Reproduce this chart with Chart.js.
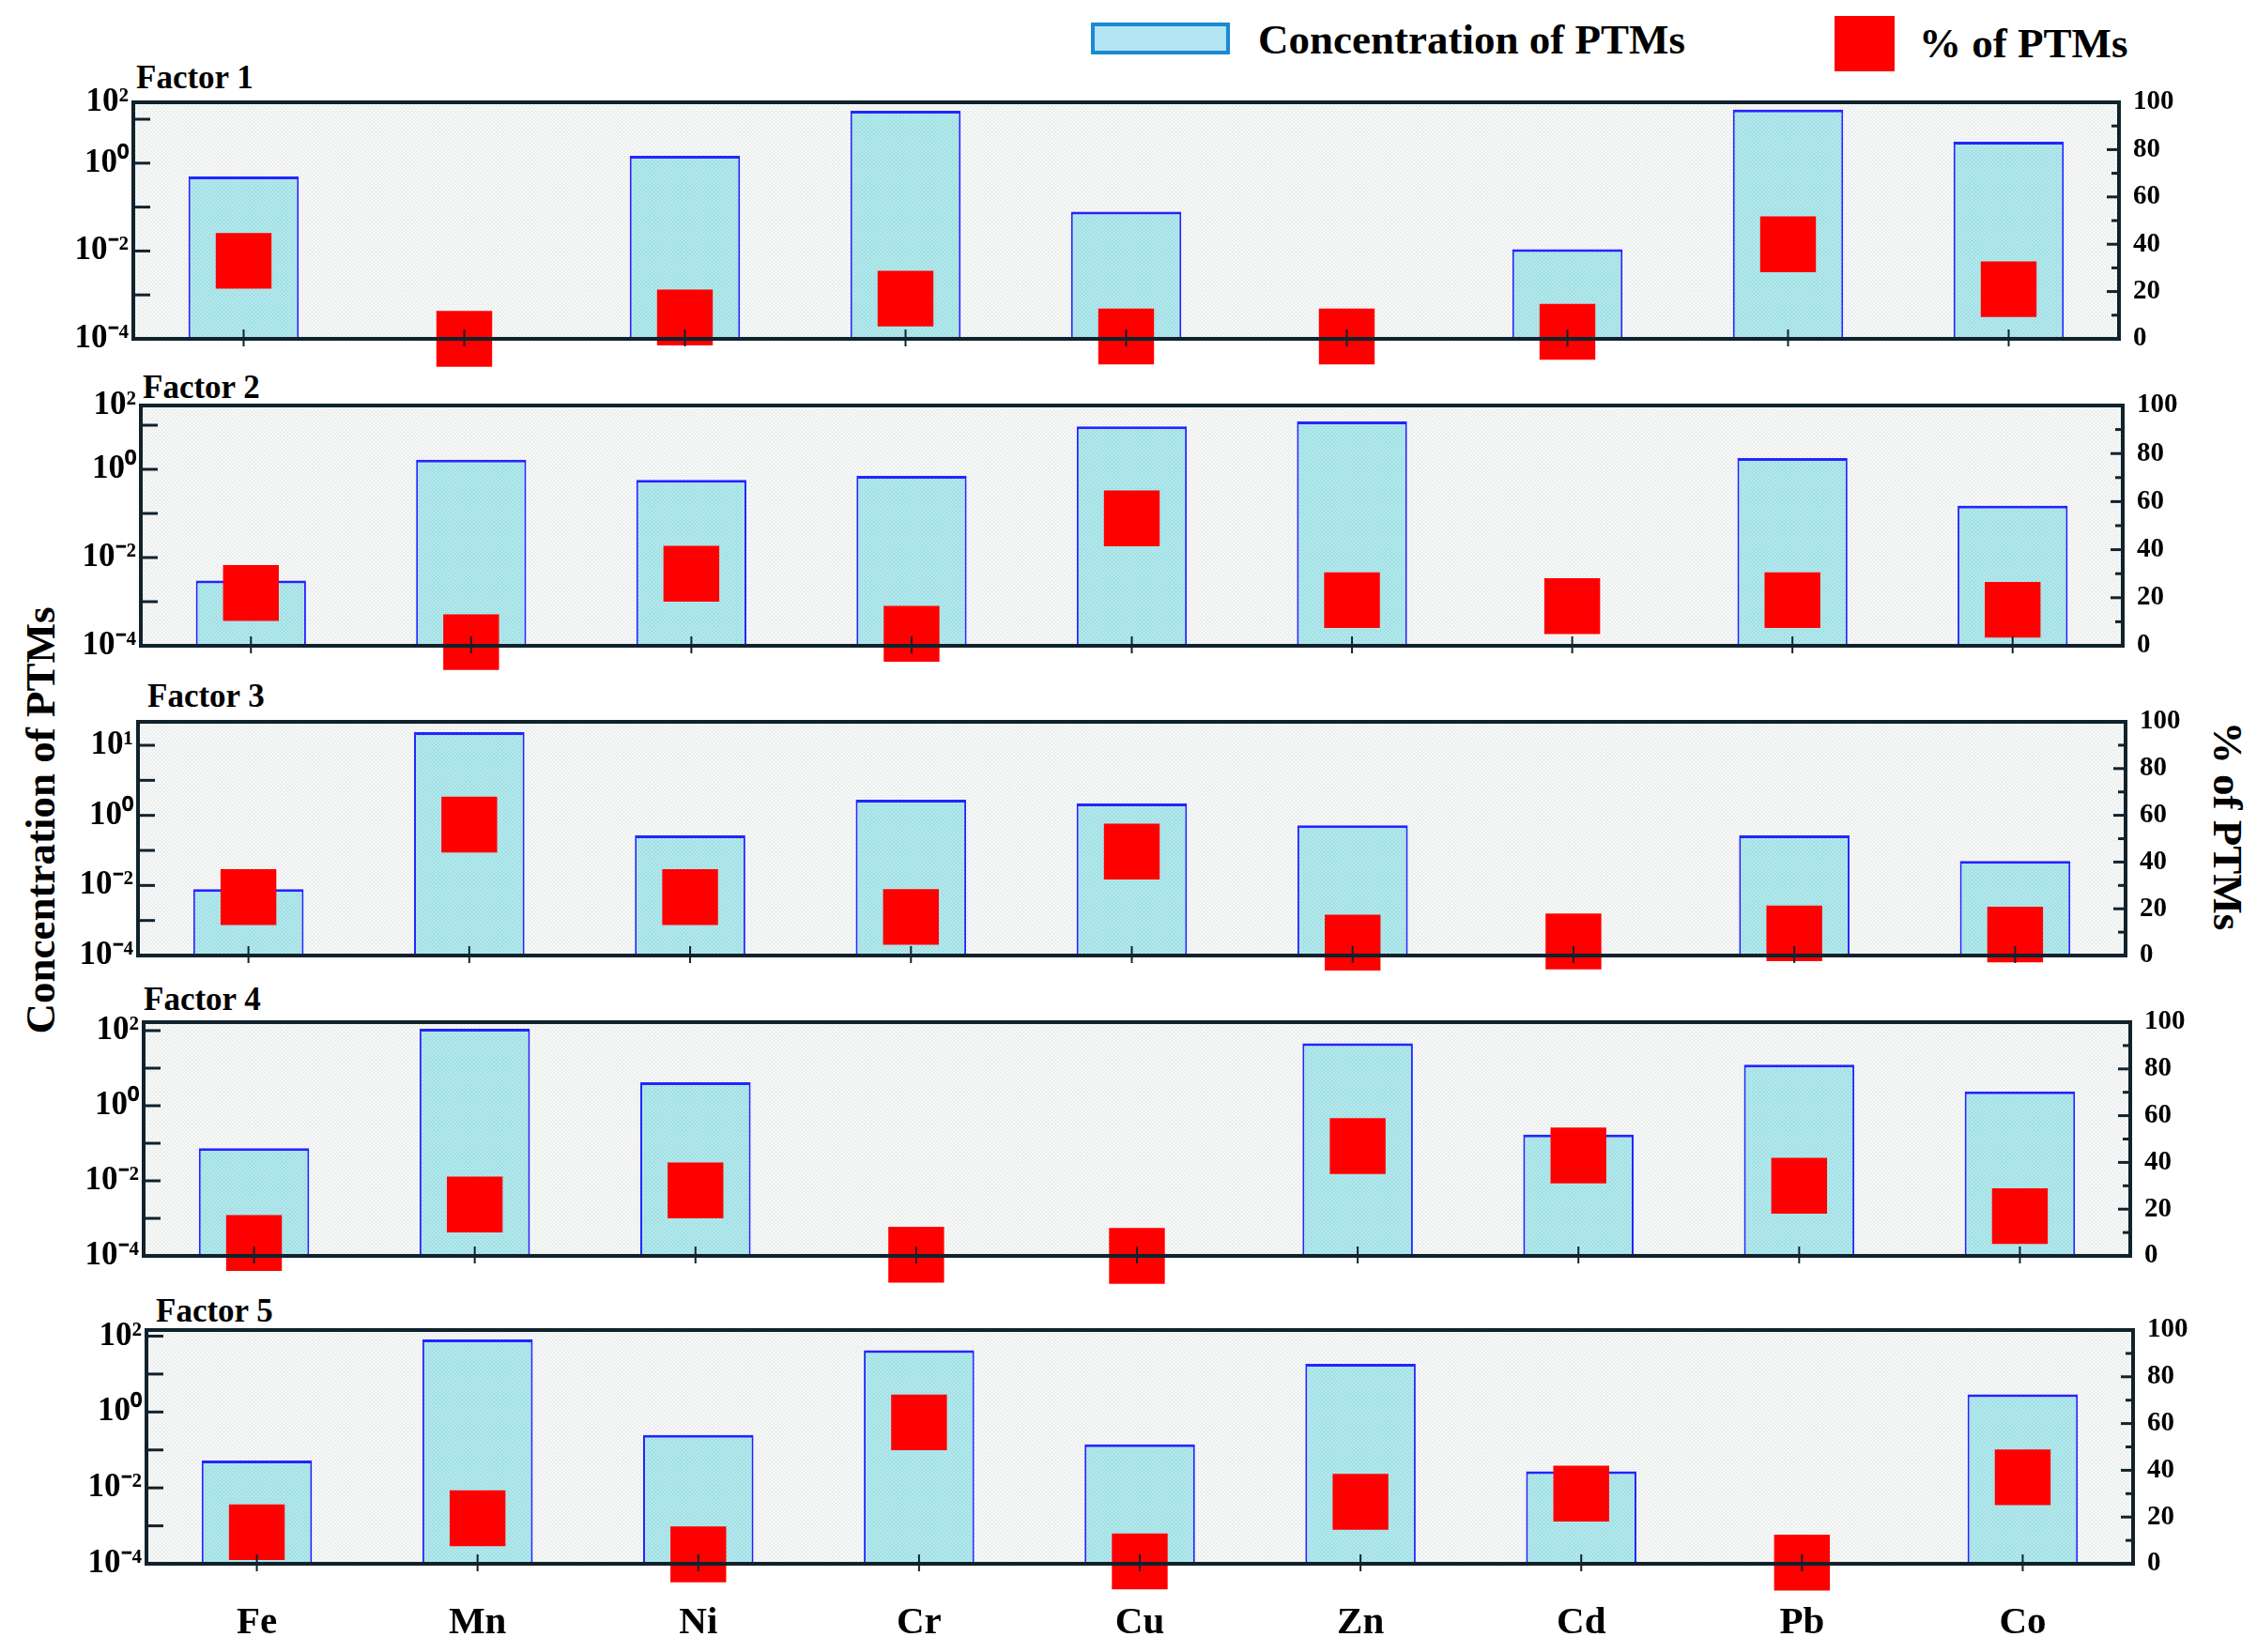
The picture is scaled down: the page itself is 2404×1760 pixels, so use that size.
<!DOCTYPE html>
<html>
<head>
<meta charset="utf-8">
<title>PTM factor profiles</title>
<script src="https://cdn.jsdelivr.net/npm/chart.js@4.4.0/dist/chart.umd.min.js"></script>
<style>
  body { margin: 0; background: #fff; width: 2404px; height: 1760px; position: relative; overflow: hidden; }
  canvas { position: absolute; left: 0; }
  svg { position: absolute; left: 0; top: 0; }
  .t { font-family: 'Liberation Serif', 'Times New Roman', serif; font-weight: bold; fill: #000; }
</style>
</head>
<body>
<svg id="overlay" width="2404" height="1760">
  <rect x="1164" y="26" width="144" height="30" fill="#b3e4f4" stroke="#1b8ad2" stroke-width="4"/>
  <text class="t" x="1340" y="57" font-size="45">Concentration of PTMs</text>
  <rect x="1954" y="17" width="64" height="59" fill="#ff0000"/>
  <text class="t" x="2044" y="61" font-size="45">% of PTMs</text>
  <text class="t" font-size="45" text-anchor="middle" dominant-baseline="central" transform="translate(43,874) rotate(-90)">Concentration of PTMs</text>
  <text class="t" font-size="45" text-anchor="middle" dominant-baseline="central" transform="translate(2373,880) rotate(90)">% of PTMs</text>
</svg>
<canvas id="f1"></canvas>
<canvas id="f2"></canvas>
<canvas id="f3"></canvas>
<canvas id="f4"></canvas>
<canvas id="f5"></canvas>
<script>
// ---- data ----
const elements = ['Fe', 'Mn', 'Ni', 'Cr', 'Cu', 'Zn', 'Cd', 'Pb', 'Co'];
const factorNames = ['Factor 1', 'Factor 2', 'Factor 3', 'Factor 4', 'Factor 5'];

// concentration of PTMs (log axis), null = no bar
const factor1Conc = [0.50, null, 1.46, 15.5, 0.079, null, 0.011, 16.6, 3.06];
const factor2Conc = [0.0030, 1.66, 0.58, 0.71, 9.4, 12.2, null, 1.8, 0.15];
const factor3Conc = [0.0078, 237, 0.27, 2.8, 2.2, 0.52, null, 0.27, 0.05];
const factor4Conc = [0.074, 112, 4.2, null, null, 46, 0.17, 12.4, 2.4];
const factor5Conc = [0.053, 82, 0.25, 42.5, 0.14, 18.5, 0.0275, null, 2.9];

// % of PTMs (right axis)
const factor1Pct = [33, 0, 9, 17, 1, 1, 3, 40, 21];
const factor2Pct = [22, 1.5, 30, 5, 53, 19, 16.5, 19, 15];
const factor3Pct = [25, 56, 25, 16.5, 44.5, 5.5, 6, 9.5, 9];
const factor4Pct = [5.5, 22, 28, 0.5, 0, 47, 43, 30, 17];
const factor5Pct = [13.5, 19.5, 4, 60.5, 1, 26.5, 30, 0.5, 37];

// log axis: top of each panel (as exponent) and tick labels
const axisMaxExp = [1.385, 1.447, 2.67, 2.225, 2.16];
const lowTickLabels = { '-4': '10\u207B\u2074', '-2': '10\u207B\u00B2', '0': '10\u2070' };
const topTickLabel = ['10\u00B2', '10\u00B2', '10\u00B9', '10\u00B2', '10\u00B2'];
const topLabelAtEdge = [true, true, false, false, false];
const pctTicks = [0, 20, 40, 60, 80, 100];

const concSeries = [factor1Conc, factor2Conc, factor3Conc, factor4Conc, factor5Conc];
const pctSeries = [factor1Pct, factor2Pct, factor3Pct, factor4Pct, factor5Pct];

// ---- layout of the five panels (page pixels) ----
const panels = [
  { left: 142, right: 2257, top: 109, bottom: 361, cTop: 60, cBottom: 420, title: [145, 94] },
  { left: 150, right: 2261, top: 432, bottom: 688, cTop: 390, cBottom: 745, title: [152, 424] },
  { left: 147, right: 2264, top: 769, bottom: 1018, cTop: 725, cBottom: 1075, title: [157, 753] },
  { left: 153, right: 2269, top: 1089, bottom: 1338, cTop: 1045, cBottom: 1400, title: [153, 1076] },
  { left: 156, right: 2272, top: 1416, bottom: 1666, cTop: 1375, cBottom: 1760, title: [166, 1408] }
];

const SERIF = "'Liberation Serif', 'Times New Roman', serif";
const FRAME = '#10222c';

function stipple(base, dot) {
  const tile = document.createElement('canvas');
  tile.width = 4; tile.height = 4;
  const g = tile.getContext('2d');
  g.fillStyle = base; g.fillRect(0, 0, 4, 4);
  g.fillStyle = dot; g.fillRect(0, 0, 1, 1); g.fillRect(2, 2, 1, 1);
  return g.createPattern(tile, 'repeat');
}
const plotFill = stipple('#f5f6f6', '#dcdfdf');
const barFill = stipple('#b0e7eb', '#8ad2d9');

// background, inward ticks and the dark box round each plot
const framePlugin = {
  id: 'frame',
  beforeDraw(chart) {
    const { ctx, chartArea: a } = chart;
    ctx.save();
    ctx.fillStyle = plotFill;
    ctx.fillRect(a.left, a.top, a.width, a.height);
    ctx.restore();
  },
  afterDatasetsDraw(chart) {
    const { ctx, chartArea: a, scales } = chart;
    const line = (x1, y1, x2, y2) => { ctx.beginPath(); ctx.moveTo(x1, y1); ctx.lineTo(x2, y2); ctx.stroke(); };
    ctx.save();
    ctx.strokeStyle = FRAME;
    ctx.lineWidth = 3;
    scales.y.ticks.forEach(t => {
      const e = Math.log10(t.value);
      if (Math.abs(e - Math.round(e)) > 1e-6) return;
      const y = scales.y.getPixelForValue(t.value);
      if (y <= a.top + 3 || y >= a.bottom - 3) return;
      line(a.left, y, a.left + 18, y);
    });
    scales.y1.ticks.forEach(t => {
      if (t.value <= 0 || t.value >= 100) return;
      const y = scales.y1.getPixelForValue(t.value);
      const len = t.value % 20 === 0 ? 13 : 8;
      line(a.right - len, y, a.right, y);
    });
    ctx.lineWidth = 2;
    scales.x.ticks.forEach((t, i) => {
      const x = scales.x.getPixelForTick(i);
      line(x, a.bottom - 10, x, a.bottom + 8);
    });
    ctx.lineWidth = 4;
    ctx.strokeRect(a.left, a.top, a.width, a.height);
    ctx.restore();
  }
};

const overlay = document.getElementById('overlay');

panels.forEach((p, i) => {
  const last = i === panels.length - 1;
  const xH = last ? 80 : 0;
  const canvas = document.getElementById('f' + (i + 1));
  const h = p.cBottom - p.cTop;
  canvas.width = 2404; canvas.height = h;
  canvas.style.width = '2404px'; canvas.style.height = h + 'px';
  canvas.style.top = p.cTop + 'px';

  // panel title
  const tt = document.createElementNS('http://www.w3.org/2000/svg', 'text');
  tt.setAttribute('class', 't');
  tt.setAttribute('x', p.title[0]);
  tt.setAttribute('y', p.title[1]);
  tt.setAttribute('font-size', '35');
  tt.textContent = factorNames[i];
  overlay.appendChild(tt);

  const maxV = Math.pow(10, axisMaxExp[i]);
  const decades = [];
  for (let e = -4; e <= Math.floor(axisMaxExp[i] + 1e-9); e++) decades.push(Math.pow(10, e));

  new Chart(canvas, {
    type: 'bar',
    data: {
      labels: elements,
      datasets: [
        {
          type: 'line',
          label: '% of PTMs',
          data: pctSeries[i],
          yAxisID: 'y1',
          showLine: false,
          pointStyle: 'rect',
          pointRadius: 42,
          pointHoverRadius: 42,
          pointBackgroundColor: '#ff0000',
          pointBorderWidth: 0,
          clip: false,
          order: 0
        },
        {
          label: 'Concentration of PTMs',
          data: concSeries[i],
          yAxisID: 'y',
          backgroundColor: barFill,
          borderColor: '#2424ff',
          borderWidth: { top: 3, left: 2, right: 2, bottom: 0 },
          borderSkipped: 'start',
          categoryPercentage: 1.0,
          barPercentage: 0.5,
          order: 1
        }
      ]
    },
    options: {
      responsive: false,
      animation: false,
      events: [],
      devicePixelRatio: 1,
      layout: {
        padding: {
          left: p.left - 100,
          right: 2404 - p.right - 110,
          top: p.top - p.cTop,
          bottom: p.cBottom - p.bottom - xH
        }
      },
      plugins: { legend: { display: false }, tooltip: { enabled: false } },
      scales: {
        x: {
          type: 'category',
          offset: true,
          grid: { display: false, drawTicks: false },
          border: { display: false },
          ticks: {
            display: last,
            padding: 39,
            color: '#000',
            font: { family: SERIF, weight: 'bold', size: 41 }
          },
          afterFit(s) { s.height = xH; }
        },
        y: {
          type: 'logarithmic',
          position: 'left',
          min: 1e-4,
          max: maxV,
          grid: { display: false, drawTicks: false },
          border: { display: false },
          afterBuildTicks(s) {
            const vals = decades.slice();
            if (topLabelAtEdge[i]) vals.push(maxV);
            s.ticks = vals.map(v => ({ value: v }));
          },
          ticks: {
            autoSkip: false,
            padding: 5,
            color: '#000',
            font: { family: SERIF, weight: 'bold', size: 35 },
            callback(v) {
              if (topLabelAtEdge[i] && Math.abs(v - maxV) < 1e-9 * maxV) return topTickLabel[i];
              const e = Math.round(Math.log10(v));
              if (!topLabelAtEdge[i] && e === 2) return topTickLabel[i];
              return lowTickLabels[String(e)] || '';
            }
          },
          afterFit(s) { s.width = 100; }
        },
        y1: {
          type: 'linear',
          position: 'right',
          min: 0,
          max: 100,
          grid: { display: false, drawTicks: false },
          border: { display: false },
          ticks: {
            stepSize: 10,
            autoSkip: false,
            padding: 15,
            color: '#000',
            font: { family: SERIF, weight: 'bold', size: 29 },
            callback(v) { return pctTicks.includes(v) ? String(v) : ''; }
          },
          afterFit(s) { s.width = 110; }
        }
      }
    },
    plugins: [framePlugin]
  });
});
</script>
</body>
</html>
